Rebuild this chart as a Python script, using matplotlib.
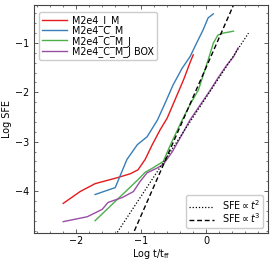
import matplotlib
matplotlib.use("Agg")
import matplotlib.pyplot as plt
from matplotlib.ticker import AutoMinorLocator

# ---- data ----
red_x = [-2.2, -1.94, -1.71, -1.37, -1.17, -1.05, -0.94, -0.83, -0.71, -0.60, -0.48, -0.35, -0.25, -0.20]
red_y = [-4.25, -4.01, -3.85, -3.73, -3.65, -3.57, -3.36, -3.06, -2.76, -2.52, -2.15, -1.75, -1.40, -1.24]

blue_x = [-1.71, -1.40, -1.22, -1.06, -0.91, -0.75, -0.63, -0.51, -0.37, -0.25, -0.14, -0.05, 0.03, 0.11]
blue_y = [-4.07, -3.93, -3.36, -3.06, -2.90, -2.56, -2.21, -1.85, -1.51, -1.28, -0.98, -0.74, -0.49, -0.41]

green_x = [-1.71, -1.40, -1.05, -0.94, -0.82, -0.66, -0.55, -0.37, -0.25, -0.12, 0.03, 0.11, 0.18, 0.26, 0.42]
green_y = [-4.60, -4.21, -3.77, -3.62, -3.53, -3.40, -3.06, -2.56, -2.25, -1.95, -1.34, -1.00, -0.84, -0.80, -0.76]

purple_x = [-2.2, -1.83, -1.60, -1.51, -1.29, -1.12, -1.02, -0.91, -0.75, -0.66, -0.52, -0.40, -0.25, -0.10, 0.05, 0.18, 0.32, 0.42, 0.49]
purple_y = [-4.62, -4.52, -4.37, -4.23, -4.13, -4.01, -3.81, -3.63, -3.53, -3.46, -3.20, -2.92, -2.56, -2.27, -1.98, -1.71, -1.44, -1.28, -1.10]

t2_x = [-1.5, 0.65]
t2_y = [-5.10, -0.80]
t3_x = [-1.2, 0.5]
t3_y = [-5.09, 0.01]

labels = ["M2e4_I_M", "M2e4_C_M", "M2e4_C_M_J", "M2e4_C_M_J BOX"]
colors = ["#e41a1c", "#377eb8", "#4daf4a", "#984ea3"]
ref_labels = [r"SFE$\propto t^2$", r"SFE$\propto t^3$"]

fs = 6.9
fig = plt.figure(figsize=(2.74, 2.63), dpi=100)
ax = fig.add_axes([0.124, 0.114, 0.854, 0.867])

series = [(red_x, red_y), (blue_x, blue_y), (green_x, green_y), (purple_x, purple_y)]
handles = []
for (x, y), c, l in zip(series, colors, labels):
    h, = ax.plot(x, y, color=c, lw=1.0, label=l)
    handles.append(h)

h2, = ax.plot(t2_x, t2_y, color="black", ls=(0, (1, 1.5)), lw=0.9)
h3, = ax.plot(t3_x, t3_y, color="black", ls=(0, (3.5, 2)), lw=1.0)

ax.set_xlim(-2.65, 0.95)
ax.set_ylim(-4.85, -0.23)
ax.set_xticks([-2, -1, 0])
ax.set_yticks([-4, -3, -2, -1])
ax.xaxis.set_minor_locator(AutoMinorLocator(5))
ax.yaxis.set_minor_locator(AutoMinorLocator(5))
ax.tick_params(which="both", direction="in", top=True, right=True, labelsize=fs, colors="#444444", labelcolor="black")
ax.tick_params(which="major", length=3, width=0.6)
ax.tick_params(which="minor", length=1.5, width=0.5)
ax.tick_params(axis="x", which="major", pad=2.5)
for s in ax.spines.values():
    s.set_color("#444444")
    s.set_linewidth(0.8)

ax.set_xlabel(r"Log t/t$_{\rm ff}$", fontsize=fs, labelpad=0.5)
ax.set_ylabel("Log SFE", fontsize=fs, labelpad=2)

leg1 = ax.legend(handles=handles, loc="upper left", fontsize=fs, labelspacing=-0.05,
                 handlelength=2.6, handletextpad=0.6, borderpad=0.3, fancybox=True,
                 framealpha=1, edgecolor="#cccccc", bbox_to_anchor=(0.0, 0.99))
ax.add_artist(leg1)
ax.legend(handles=[h2, h3], labels=ref_labels, loc="lower right", fontsize=fs,
          labelspacing=-0.05, handlelength=2.6, handletextpad=0.8, borderpad=0.3,
          fancybox=True, framealpha=1, edgecolor="#cccccc")

fig.savefig("out.png", dpi=100)
